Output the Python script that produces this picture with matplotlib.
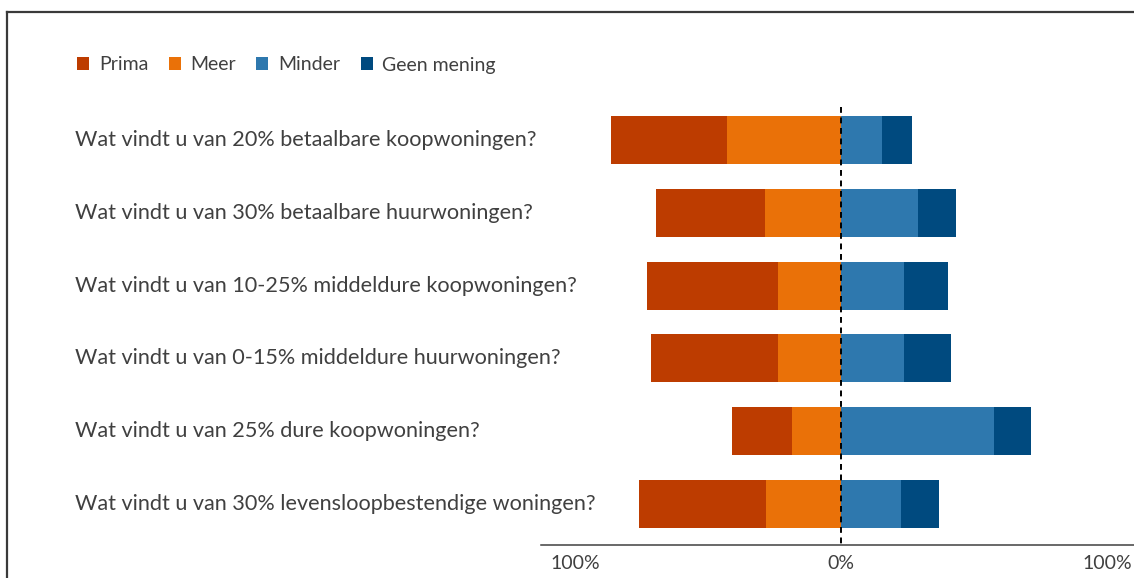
import matplotlib
matplotlib.use('Agg')
import matplotlib.pyplot as plt
from matplotlib.patches import Patch
from matplotlib.lines import Line2D

# data (percentages)
questions = ['Wat vindt u van 20% betaalbare koopwoningen?',
             'Wat vindt u van 30% betaalbare huurwoningen?',
             'Wat vindt u van 10-25% middeldure koopwoningen?',
             'Wat vindt u van 0-15% middeldure huurwoningen?',
             'Wat vindt u van 25% dure koopwoningen?',
             'Wat vindt u van 30% levensloopbestendige woningen?']
prima = [38.7, 36.3, 43.9, 42.4, 20.1, 42.4]
meer = [38.1, 25.4, 20.9, 20.9, 16.3, 24.9]
minder = [13.6, 25.7, 21.0, 21.0, 50.9, 20.0]
geen = [10.0, 12.6, 14.7, 15.7, 12.4, 12.7]
series_names = ['Prima', 'Meer', 'Minder', 'Geen mening']
tick_labels = ['100%', '0%', '100%']

COLORS = ['#BD3C00', '#EA7108', '#2E78AE', '#004A7F']
TEXT_COLOR = '#404040'
FONT = 'Lato'

W, H = 1134, 578
fig = plt.figure(figsize=(W/100, H/100), dpi=100)

# outer frame (only left and top edges visible in the crop)
fig.add_artist(Line2D([7/W, 7/W], [0, 1-12/H], color='#3a3a3a', lw=1.6))
fig.add_artist(Line2D([7/W, 1], [1-12/H, 1-12/H], color='#3a3a3a', lw=1.6))

ax = fig.add_axes([541/W, 33/H, 600/W, 445/H])
ax.set_xlim(-100, 100)
ax.set_ylim(5.563, -0.549)

y = list(range(len(questions)))
h = 0.66
left_prima = [-(p+m) for p, m in zip(prima, meer)]
left_meer = [-m for m in meer]
ax.barh(y, prima, left=left_prima, height=h, color=COLORS[0], zorder=2)
ax.barh(y, meer, left=left_meer, height=h, color=COLORS[1], zorder=2)
ax.barh(y, minder, left=0, height=h, color=COLORS[2], zorder=2)
ax.barh(y, geen, left=minder, height=h, color=COLORS[3], zorder=2)

ax.plot([0, 0], [-0.453, 5.563], color='black', lw=1.4, ls=(0, (3, 2.4)), zorder=3, clip_on=False)

for s in ['top', 'right', 'left']:
    ax.spines[s].set_visible(False)
ax.spines['bottom'].set_color(TEXT_COLOR)
ax.spines['bottom'].set_linewidth(1.1)
ax.set_yticks([])
ax.set_xticks([])

# question labels
for yi, q in zip(y, questions):
    ax.text((75-541)/600, yi, q, transform=ax.get_yaxis_transform(), ha='left', va='center',
            fontsize=15.6, color=TEXT_COLOR, family=FONT)

# x tick labels (Excel-style: outer labels aligned inwards)
tr = ax.get_xaxis_transform()
ax.annotate(tick_labels[0], xy=(-100, 0), xycoords=tr, xytext=(6.5, -13), textcoords='offset points',
            ha='left', va='center', fontsize=14, color=TEXT_COLOR, family=FONT)
ax.annotate(tick_labels[1], xy=(0, 0), xycoords=tr, xytext=(0, -13), textcoords='offset points',
            ha='center', va='center', fontsize=14, color=TEXT_COLOR, family=FONT)
ax.annotate(tick_labels[2], xy=(100, 0), xycoords=tr, xytext=(-6.5, -13), textcoords='offset points',
            ha='right', va='center', fontsize=14, color=TEXT_COLOR, family=FONT)

handles = [Patch(facecolor=c, edgecolor='none') for c in COLORS]
leg = fig.legend(handles, series_names, loc='center left', bbox_to_anchor=(77/W, 1-65/H),
                 ncol=4, frameon=False, borderpad=0, borderaxespad=0,
                 handlelength=0.62, handleheight=0.62, handletextpad=0.5,
                 columnspacing=1.05, prop={'family': FONT, 'size': 14})
for t in leg.get_texts():
    t.set_color(TEXT_COLOR)

fig.savefig('out.png', dpi=100, facecolor='white')
